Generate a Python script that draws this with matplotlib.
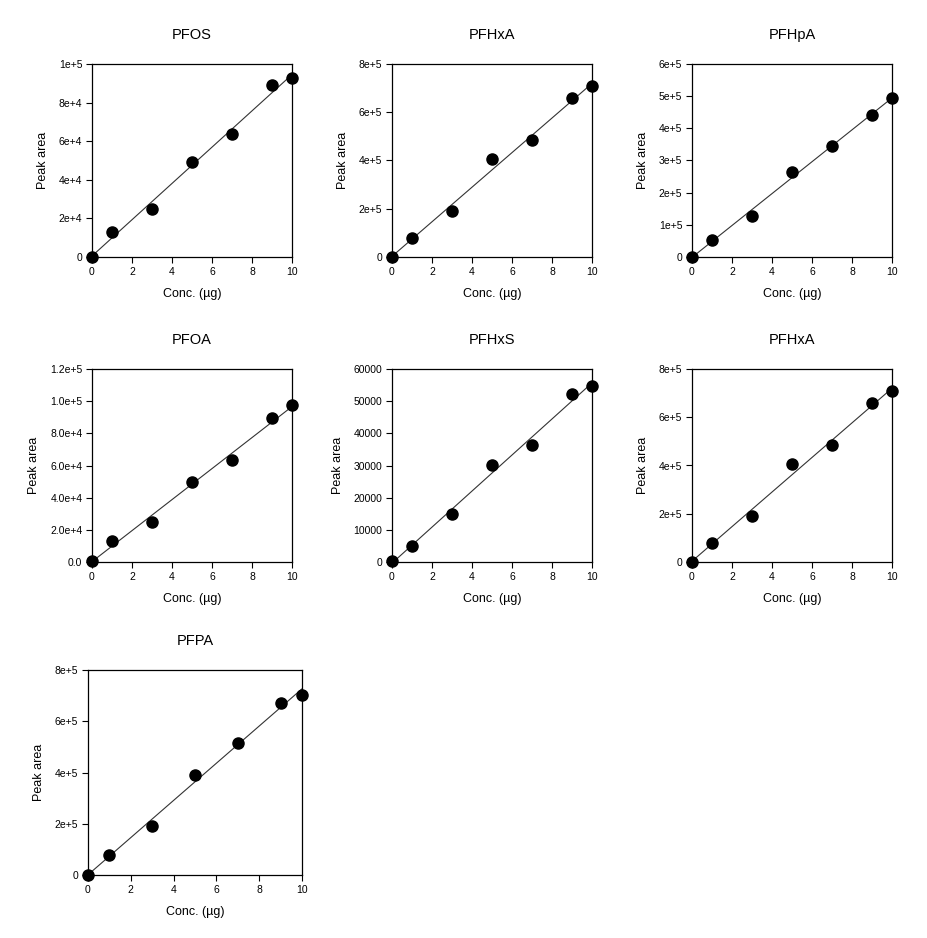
import numpy as np
import matplotlib
matplotlib.use("Agg")
import matplotlib.pyplot as plt

plt.rcParams['font.family'] = ['Liberation Sans', 'DejaVu Sans']

conc = [0, 1, 3, 5, 7, 9, 10]

names = ["PFOS", "PFHxA", "PFHpA", "PFOA", "PFHxS", "PFHxA", "PFPA"]

pfos = [0, 13100, 24700, 49200, 63600, 89300, 92700]
pfhxa = [0, 78800, 190700, 406200, 483600, 659000, 708800]
pfhpa = [0, 53900, 126400, 264200, 346100, 442500, 493300]
pfoa = [400, 13300, 25100, 49500, 63600, 89500, 97600]
pfhxs = [200, 4970, 14800, 30300, 36500, 52200, 54600]
pfhxa_2 = [0, 78800, 192000, 407600, 485000, 659000, 708800]
pfpa = [0, 78000, 191200, 389000, 513800, 671200, 702400]

series = [pfos, pfhxa, pfhpa, pfoa, pfhxs, pfhxa_2, pfpa]

ytick_vals = [
    [0, 2e4, 4e4, 6e4, 8e4, 1e5],
    [0, 2e5, 4e5, 6e5, 8e5],
    [0, 1e5, 2e5, 3e5, 4e5, 5e5, 6e5],
    [0, 2e4, 4e4, 6e4, 8e4, 1e5, 1.2e5],
    [0, 10000, 20000, 30000, 40000, 50000, 60000],
    [0, 2e5, 4e5, 6e5, 8e5],
    [0, 2e5, 4e5, 6e5, 8e5],
]
ytick_labels = [
    ["0", "2e+4", "4e+4", "6e+4", "8e+4", "1e+5"],
    ["0", "2e+5", "4e+5", "6e+5", "8e+5"],
    ["0", "1e+5", "2e+5", "3e+5", "4e+5", "5e+5", "6e+5"],
    ["0.0", "2.0e+4", "4.0e+4", "6.0e+4", "8.0e+4", "1.0e+5", "1.2e+5"],
    ["0", "10000", "20000", "30000", "40000", "50000", "60000"],
    ["0", "2e+5", "4e+5", "6e+5", "8e+5"],
    ["0", "2e+5", "4e+5", "6e+5", "8e+5"],
]

W, H = 928, 938
# axes boxes in pixels: left, top, right, bottom
boxes = [
    (92, 64, 292, 257), (392, 64, 592, 257), (692, 64, 892, 257),
    (92, 369, 292, 562), (392, 369, 592, 562), (692, 369, 892, 562),
    (88, 670, 302, 875),
]

fig = plt.figure(figsize=(W / 100, H / 100), dpi=100)

for i, (name, y) in enumerate(zip(names, series)):
    l, t, r, b = boxes[i]
    ax = fig.add_axes([l / W, (H - b) / H, (r - l) / W, (b - t) / H])
    slope, icpt = np.polyfit(conc, y, 1)
    xf = np.array([0, 10])
    ax.plot(xf, slope * xf + icpt, color="#333333", lw=0.8, clip_on=False)
    ax.plot(conc, y, "o", color="black", ms=8, clip_on=False, zorder=3)
    ax.set_xlim(0, 10)
    ax.set_ylim(ytick_vals[i][0], ytick_vals[i][-1])
    ax.set_xticks([0, 2, 4, 6, 8, 10])
    ax.set_yticks(ytick_vals[i])
    ax.set_yticklabels(ytick_labels[i])
    ax.tick_params(direction="out", length=4, width=0.8, labelsize=7.5, pad=3)
    for s in ax.spines.values():
        s.set_linewidth(0.9)
    ax.set_title(name, fontsize=10.5, pad=18)
    ax.set_xlabel("Conc. (\u00b5g)", fontsize=9, labelpad=8)
    ax.set_ylabel("Peak area", fontsize=9, labelpad=7)

fig.savefig("out.png", dpi=100)
